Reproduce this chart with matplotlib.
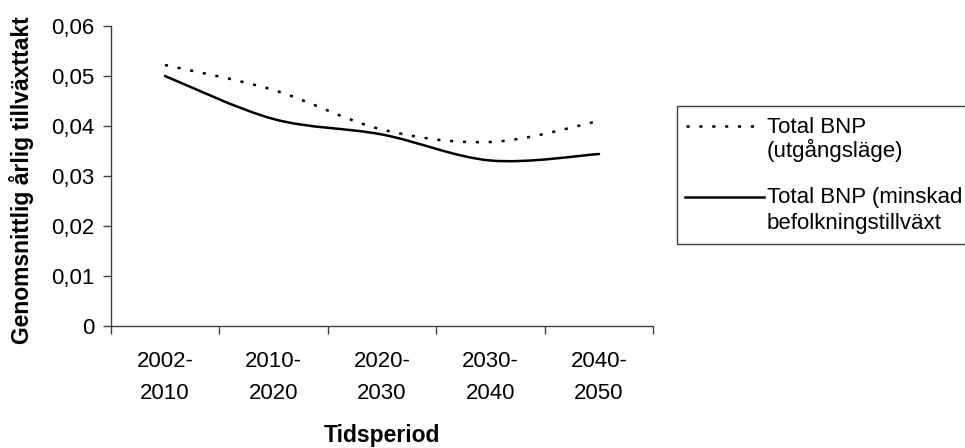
import matplotlib
matplotlib.use("Agg")
import matplotlib.pyplot as plt
from matplotlib.path import Path
from matplotlib.patches import PathPatch, Rectangle
from matplotlib.lines import Line2D

plt.rcParams['font.family'] = ['Liberation Sans', 'DejaVu Sans']

# Data
periods = ["2002-\n2010", "2010-\n2020", "2020-\n2030", "2030-\n2040", "2040-\n2050"]
bnp_base = [0.0522, 0.0472, 0.0393, 0.0368, 0.0410]
bnp_low_pop = [0.0500, 0.0414, 0.0383, 0.0331, 0.0344]
label_base = "Total BNP\n(utgångsläge)"
label_low_pop = "Total BNP (minskad\nbefolkningstillväxt"
yticks = [0, 0.01, 0.02, 0.03, 0.04, 0.05, 0.06]
ytick_labels = ["0", "0,01", "0,02", "0,03", "0,04", "0,05", "0,06"]

W, H = 965, 448
fig = plt.figure(figsize=(W / 100, H / 100), dpi=100)
ax = fig.add_axes([110.7 / W, 1 - 326 / H, (653.3 - 110.7) / W, (326 - 26) / H])


def smooth_path(xs, ys):
    """Bezier path through the points with Catmull-Rom style tangents."""
    n = len(xs)
    verts = [(xs[0], ys[0])]
    codes = [Path.MOVETO]
    for i in range(n - 1):
        x0, y0 = (xs[i - 1], ys[i - 1]) if i > 0 else (xs[i], ys[i])
        x1, y1 = xs[i], ys[i]
        x2, y2 = xs[i + 1], ys[i + 1]
        x3, y3 = (xs[i + 2], ys[i + 2]) if i + 2 < n else (x2, y2)
        c1 = (x1 + (x2 - x0) / 6, y1 + (y2 - y0) / 6)
        c2 = (x2 - (x3 - x1) / 6, y2 - (y3 - y1) / 6)
        verts += [c1, c2, (x2, y2)]
        codes += [Path.CURVE4] * 3
    return Path(verts, codes)


xs = list(range(len(periods)))
lw = 1.8
dots = (0, (1.25, 3.9))
ax.add_patch(PathPatch(smooth_path(xs, bnp_base), fill=False, lw=lw,
                       ls=dots, color="black", capstyle="butt"))
ax.add_patch(PathPatch(smooth_path(xs, bnp_low_pop), fill=False, lw=lw,
                       ls="-", color="black", capstyle="round"))

ax.set_xlim(-0.5, len(periods) - 0.5)
ax.set_ylim(0, 0.06)
ax.set_yticks(yticks)
ax.set_yticklabels(ytick_labels)
ax.set_xticks([i - 0.5 for i in range(len(periods) + 1)], minor=False)
ax.set_xticklabels([])
ax.set_xticks(xs, minor=True)
ax.set_xticklabels(periods, minor=True, linespacing=1.68)

axis_color = "#404040"
for s in ("top", "right"):
    ax.spines[s].set_visible(False)
for s in ("left", "bottom"):
    ax.spines[s].set_color(axis_color)
    ax.spines[s].set_linewidth(1.0)
ax.tick_params(axis="y", which="major", direction="out", length=6, width=1,
               color=axis_color, labelsize=16, pad=6)
ax.tick_params(axis="x", which="major", direction="out", length=6, width=1,
               color=axis_color)
ax.tick_params(axis="x", which="minor", length=0, labelsize=16, pad=18)

fig.text(22 / W, 1 - 180 / H, "Genomsnittlig årlig tillväxttakt", rotation=90,
         ha="center", va="center", fontsize=16.5, fontweight="bold")
fig.text(382 / W, 1 - 435 / H, "Tidsperiod", ha="center", va="center",
         fontsize=16.5, fontweight="bold")

# Legend box
def fx(px):
    return px / W


def fy(py):
    return 1 - py / H


fig.add_artist(Rectangle((fx(676.7), fy(244.3)), fx(975) - fx(676.7),
                         fy(105.7) - fy(244.3), transform=fig.transFigure,
                         fill=False, edgecolor="#404040", lw=1.0))
fig.add_artist(Line2D([fx(686), fx(763)], [fy(126.5), fy(126.5)],
                      transform=fig.transFigure, color="black", lw=lw,
                      ls=dots, dash_capstyle="butt"))
fig.add_artist(Line2D([fx(685), fx(764)], [fy(196.7), fy(196.7)],
                      transform=fig.transFigure, color="black", lw=lw))
for text, yc in zip(label_base.split("\n") + label_low_pop.split("\n"),
                    [126.7, 151.7, 196.7, 223]):
    fig.text(fx(767), fy(yc + 5.8), text, ha="left", va="baseline", fontsize=16)

fig.savefig("out.png", dpi=100)
